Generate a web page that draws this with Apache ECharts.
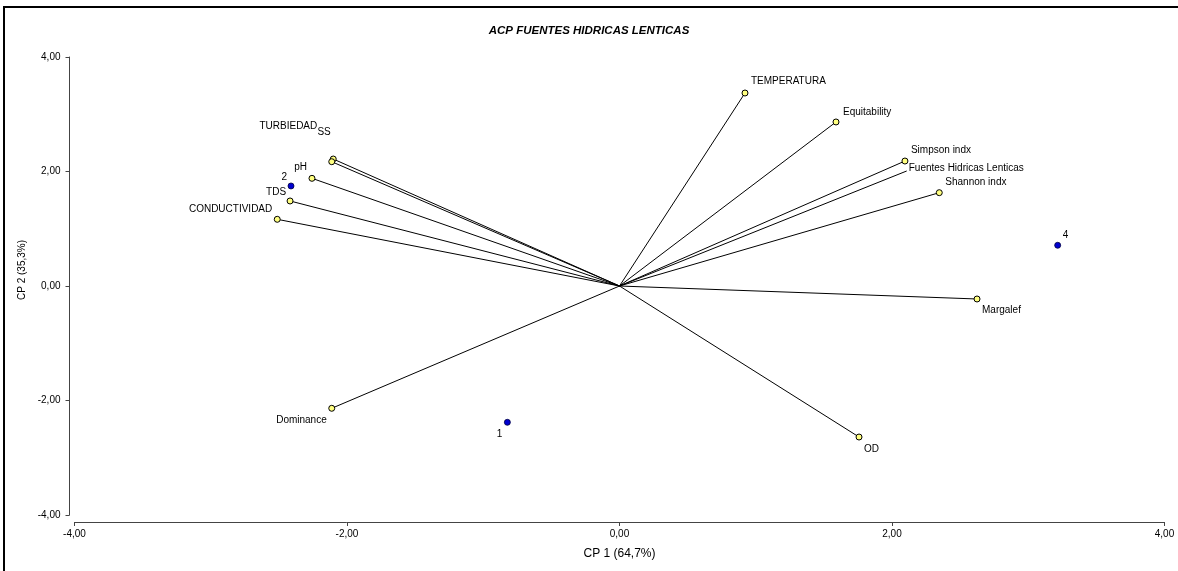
<!DOCTYPE html>
<html>
<head>
<meta charset="utf-8">
<script src="https://cdn.jsdelivr.net/npm/echarts@6/dist/echarts.min.js"></script>
<style>
html,body{margin:0;padding:0;background:#fff;}
#chart{width:1178px;height:571px;}
</style>
</head>
<body>
<div id="chart"></div>
<script>
// ---- data ----
const varNames = ['TEMPERATURA','Equitability','Simpson indx','Shannon indx','Margalef','OD','Dominance','CONDUCTIVIDAD','TDS','pH','TURBIEDAD','SS'];
const varX = [0.921, 1.589, 2.095, 2.347, 2.624, 1.758, -2.112, -2.512, -2.418, -2.257, -2.101, -2.112];
const varY = [3.371, 2.865, 2.183, 1.630, -0.227, -2.638, -2.136, 1.165, 1.485, 1.881, 2.218, 2.171];
const suppNames = ['Fuentes Hidricas Lenticas'];
const suppX = [2.108];
const suppY = [2.009];
const objNames = ['1','2','4'];
const objX = [-0.823, -2.411, 3.216];
const objY = [-2.381, 1.747, 0.711];
const xTicks = [-4, -2, 0, 2, 4];
const yTicks = [-4, -2, 0, 2, 4];

// ---- label placement (style) ----
const labelPlace = {
  'TEMPERATURA': ['left', 6, -12],
  'Equitability': ['left', 7, -10],
  'Simpson indx': ['left', 6, -11],
  'Fuentes Hidricas Lenticas': ['left', 2, -3],
  'Shannon indx': ['left', 6, -10],
  'Margalef': ['left', 5, 11],
  'OD': ['left', 5, 12],
  'Dominance': ['right', -5, 12],
  'CONDUCTIVIDAD': ['right', -5, -10],
  'TDS': ['right', -4, -9],
  'pH': ['right', -5, -11],
  'TURBIEDAD': ['right', -16, -33],
  'SS': ['right', -1, -29],
  '1': ['right', -5, 12],
  '2': ['right', -4, -9],
  '4': ['left', 5, -10]
};

const FONT = 'Liberation Sans, Arial, sans-serif';
const fmt = v => v.toFixed(2).replace('.', ',');

function pointItem(name, x, y) {
  const p = labelPlace[name];
  return {
    name: name,
    value: [x, y],
    label: {
      show: true,
      position: 'inside',
      align: p[0],
      verticalAlign: 'middle',
      offset: [p[1], p[2]],
      formatter: name,
      color: '#000',
      opacity: 1,
      textBorderWidth: 0,
      textBorderColor: 'transparent',
      fontSize: 10,
      fontFamily: FONT
    }
  };
}

const vectorLines = [];
varNames.forEach((n, i) => vectorLines.push({ coords: [[0, 0], [varX[i], varY[i]]] }));
suppNames.forEach((n, i) => vectorLines.push({ coords: [[0, 0], [suppX[i], suppY[i]]] }));

const axisColor = '#444';

const option = {
  animation: false,
  backgroundColor: '#fff',
  title: {
    text: 'ACP FUENTES HIDRICAS LENTICAS',
    left: 'center',
    top: 20,
    textStyle: { fontFamily: FONT, fontSize: 11.5, fontWeight: 'bold', fontStyle: 'italic', color: '#000' }
  },
  graphic: [{
    type: 'rect',
    shape: { x: 4, y: 7, width: 1250, height: 650 },
    style: { fill: 'none', stroke: '#000', lineWidth: 2 },
    silent: true,
    z: 100
  }],
  grid: { left: 74.5, right: 13.5, top: 57, bottom: 56 },
  xAxis: {
    type: 'value',
    min: xTicks[0], max: xTicks[xTicks.length - 1], interval: 2,
    offset: 7,
    name: 'CP 1 (64,7%)',
    nameLocation: 'middle',
    nameGap: 26,
    nameTextStyle: { fontFamily: FONT, fontSize: 12, color: '#000' },
    axisLine: { show: true, onZero: false, lineStyle: { color: axisColor, width: 1 } },
    axisTick: { show: true, length: 4, lineStyle: { color: axisColor } },
    axisLabel: { formatter: fmt, fontFamily: FONT, fontSize: 10, color: '#000', margin: 7 },
    splitLine: { show: false }
  },
  yAxis: {
    type: 'value',
    min: yTicks[0], max: yTicks[yTicks.length - 1], interval: 2,
    offset: 5,
    name: 'CP 2 (35,3%)',
    nameLocation: 'middle',
    nameGap: 31,
    nameTextStyle: { fontFamily: FONT, fontSize: 10, color: '#000', padding: [0, 0, 0, 32] },
    axisLine: { show: true, onZero: false, lineStyle: { color: axisColor, width: 1 } },
    axisTick: { show: true, length: 4, lineStyle: { color: axisColor } },
    axisLabel: { formatter: fmt, fontFamily: FONT, fontSize: 10, color: '#000', margin: 9 },
    splitLine: { show: false }
  },
  series: [
    {
      type: 'lines',
      coordinateSystem: 'cartesian2d',
      data: vectorLines,
      lineStyle: { color: '#000', width: 1, opacity: 1, curveness: 0 },
      silent: true,
      z: 2
    },
    {
      type: 'scatter',
      data: varNames.map((n, i) => pointItem(n, varX[i], varY[i])),
      symbol: 'circle',
      symbolSize: 6,
      itemStyle: { color: '#ffff80', borderColor: '#000', borderWidth: 1, opacity: 1 },
      z: 3
    },
    {
      type: 'scatter',
      data: suppNames.map((n, i) => pointItem(n, suppX[i], suppY[i])),
      symbol: 'circle',
      symbolSize: 1,
      itemStyle: { color: '#000', borderWidth: 0, opacity: 0 },
      z: 3
    },
    {
      type: 'scatter',
      data: objNames.map((n, i) => pointItem(n, objX[i], objY[i])),
      symbol: 'circle',
      symbolSize: 6,
      itemStyle: { color: '#0000d0', borderColor: '#000040', borderWidth: 0.8, opacity: 1 },
      z: 3
    }
  ]
};

const chart = echarts.init(document.getElementById('chart'), null, { renderer: 'canvas' });
chart.setOption(option);
</script>
</body>
</html>
